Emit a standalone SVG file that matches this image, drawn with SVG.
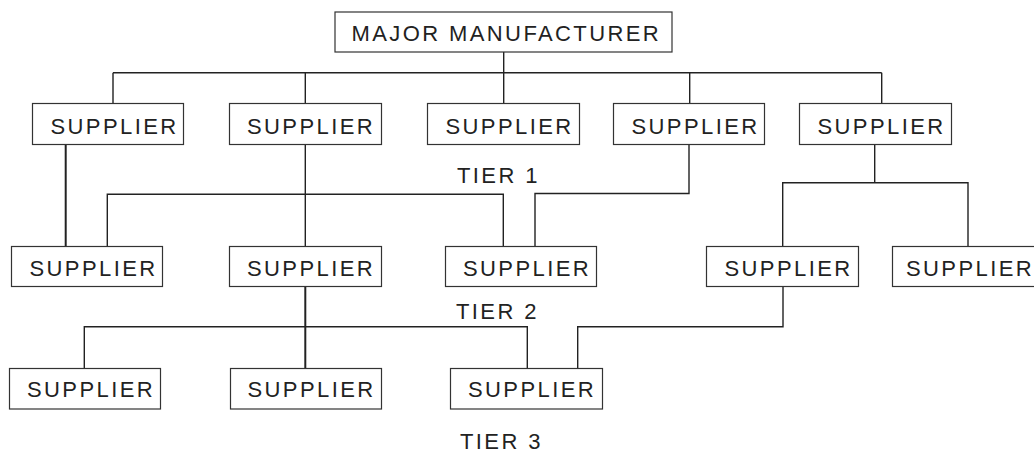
<svg xmlns="http://www.w3.org/2000/svg" width="1034" height="453" viewBox="0 0 1034 453">
<style>
.box{fill:#fff;stroke:#333;stroke-width:1.2}
.t{font-family:"Liberation Sans",Arial,sans-serif;font-size:22px;letter-spacing:2.4px;fill:#222}
.c{fill:none;stroke:#222;stroke-width:1.4}
.ct{fill:none;stroke:#222;stroke-width:2}
</style>
<rect width="1034" height="453" fill="#fff"/>
<g id="connectors">
<path class="c" d="M503.7 52 V72.7 M113 72.7 H881.7 M113 72.7 V103.5 M305.3 72.7 V103.5 M503.7 72.7 V103.5 M689.7 72.7 V103.5 M881.7 72.7 V103.5"/>
<path class="ct" d="M65.7 144.5 V246.5"/>
<path class="c" d="M305.3 144.5 V246.5 M107.3 246.5 V194.3 H503.3 V246.5"/>
<path class="c" d="M689 144.5 V193.5 H535 V246.5"/>
<path class="c" d="M874.7 144.5 V182.7 M782.7 246.5 V182.7 H968 V246.5"/>
<path class="ct" d="M305.3 286.5 V368.5"/>
<path class="c" d="M84.3 368.5 V326.7 H527.3 V368.5"/>
<path class="c" d="M783 286.5 V326.7 H577.7 V368.5"/>
</g>
<g id="major"><rect class="box" x="335" y="12" width="337" height="40"/><text class="t" x="351.5" y="40.5">MAJOR MANUFACTURER</text></g>
<g id="t1s1"><rect class="box" x="32.5" y="103.5" width="151" height="41"/><text class="t" x="50.5" y="133.5">SUPPLIER</text></g>
<g id="t1s2"><rect class="box" x="229.5" y="103.5" width="152" height="41"/><text class="t" x="247" y="133.5">SUPPLIER</text></g>
<g id="t1s3"><rect class="box" x="427.5" y="103.5" width="152" height="41"/><text class="t" x="445.5" y="133.5">SUPPLIER</text></g>
<g id="t1s4"><rect class="box" x="613.5" y="103.5" width="151" height="41"/><text class="t" x="631.5" y="133.5">SUPPLIER</text></g>
<g id="t1s5"><rect class="box" x="799.5" y="103.5" width="152" height="41"/><text class="t" x="817.5" y="133.5">SUPPLIER</text></g>
<g id="tier1"><text class="t" x="457" y="182.7">TIER 1</text></g>
<g id="t2s1"><rect class="box" x="11.5" y="246.5" width="151" height="40"/><text class="t" x="29.5" y="275.5">SUPPLIER</text></g>
<g id="t2s2"><rect class="box" x="229.5" y="246.5" width="152" height="40"/><text class="t" x="247" y="275.5">SUPPLIER</text></g>
<g id="t2s3"><rect class="box" x="445.5" y="246.5" width="151" height="40"/><text class="t" x="463" y="275.5">SUPPLIER</text></g>
<g id="t2s4"><rect class="box" x="706.5" y="246.5" width="152" height="40"/><text class="t" x="724.5" y="275.5">SUPPLIER</text></g>
<g id="t2s5"><rect class="box" x="892.5" y="246.5" width="152" height="40"/><text class="t" x="906" y="275.5">SUPPLIER</text></g>
<g id="tier2"><text class="t" x="456" y="319.3">TIER 2</text></g>
<g id="t3s1"><rect class="box" x="9.5" y="368.5" width="151" height="40.5"/><text class="t" x="27" y="397">SUPPLIER</text></g>
<g id="t3s2"><rect class="box" x="230.5" y="368.5" width="151" height="40.5"/><text class="t" x="247.5" y="397">SUPPLIER</text></g>
<g id="t3s3"><rect class="box" x="450.5" y="368.5" width="152" height="40.5"/><text class="t" x="468" y="397">SUPPLIER</text></g>
<g id="tier3"><text class="t" x="460" y="448.5">TIER 3</text></g>
</svg>
